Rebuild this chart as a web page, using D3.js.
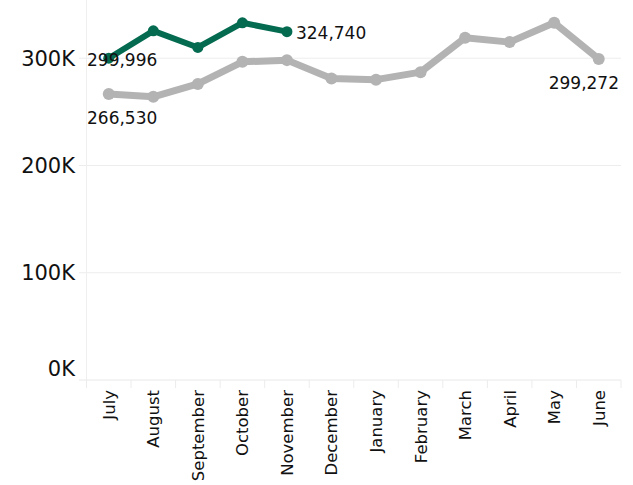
<!DOCTYPE html>
<html><head><meta charset="utf-8">
<script src="https://cdn.jsdelivr.net/npm/d3@7"></script>
<style>body{margin:0;background:#fff;} text{font-family:"DejaVu Sans",sans-serif;}</style>
</head><body>
<svg id="c" width="633" height="485"></svg>
<script>
const months = ["July","August","September","October","November","December","January","February","March","April","May","June"];
const currentYear = [299996, 325500, 310000, 333000, 324740];
const priorYear = [266530, 264000, 276000, 296600, 298200, 281000, 280000, 287000, 319000, 315000, 333000, 299272];
const yTicks = [0, 100000, 200000, 300000];

const svg = d3.select("#c");
const L = 86.5, R = 621, T = 0, B = 380;
const x = d3.scaleBand().domain(months).range([L, R]);
const y = d3.scaleLinear().domain([0, 300000]).range([B, B - 321.8]);
const cx = m => x(m) + x.bandwidth() / 2;

// gridlines
svg.append("g").selectAll("line").data(yTicks.filter(d => d > 0)).join("line")
  .attr("x1", 79).attr("x2", R).attr("y1", d => y(d)).attr("y2", d => y(d))
  .attr("stroke", "#ededed").attr("stroke-width", 1);
// left vertical axis line
svg.append("line").attr("x1", L).attr("x2", L).attr("y1", T).attr("y2", B)
  .attr("stroke", "#efefef");
// bottom axis line
svg.append("line").attr("x1", 79).attr("x2", R).attr("y1", B).attr("y2", B)
  .attr("stroke", "#e8e8e8");
// band separator ticks
svg.append("g").selectAll("line").data(d3.range(months.length + 1)).join("line")
  .attr("x1", i => L + i * x.bandwidth()).attr("x2", i => L + i * x.bandwidth())
  .attr("y1", B).attr("y2", B + 8).attr("stroke", "#ececec");

// y labels
svg.append("g").selectAll("text").data(yTicks).join("text")
  .attr("x", 75).attr("y", d => d === 0 ? y(d) - 12 : y(d))
  .attr("dy", "0.36em").attr("text-anchor", "end")
  .attr("font-size", 21).attr("fill", "#111")
  .text(d => d3.format("d")(d / 1000) + "K");

// x labels
svg.append("g").selectAll("text").data(months).join("text")
  .attr("transform", m => `translate(${cx(m) + 6},390) rotate(-90)`)
  .attr("text-anchor", "end").attr("font-size", 16.5).attr("fill", "#111")
  .text(m => m);

const line = d3.line().x(d => cx(d.m)).y(d => y(d.v));
const prior = priorYear.map((v, i) => ({ m: months[i], v }));
const curr = currentYear.map((v, i) => ({ m: months[i], v }));

svg.append("path").datum(prior).attr("d", line).attr("fill", "none")
  .attr("stroke", "#b3b3b3").attr("stroke-width", 7).attr("stroke-linejoin", "round");
svg.append("g").selectAll("circle").data(prior).join("circle")
  .attr("cx", d => cx(d.m)).attr("cy", d => y(d.v)).attr("r", 6).attr("fill", "#b3b3b3");

svg.append("path").datum(curr).attr("d", line).attr("fill", "none")
  .attr("stroke", "#046b51").attr("stroke-width", 6).attr("stroke-linejoin", "round");
svg.append("g").selectAll("circle").data(curr).join("circle")
  .attr("cx", d => cx(d.m)).attr("cy", d => y(d.v)).attr("r", 5.5).attr("fill", "#046b51");

const fmt = d3.format(",");
const lab = (t, xx, yy, anchor) => svg.append("text").attr("x", xx).attr("y", yy)
  .attr("text-anchor", anchor).attr("font-size", 17).attr("fill", "#111").text(t);
lab(fmt(currentYear[0]), 87, 66, "start");
lab(fmt(priorYear[0]), 87, 124, "start");
lab(fmt(currentYear[4]), cx(months[4]) + 9, 39, "start");
lab(fmt(priorYear[11]), 619, 89, "end");
</script>
</body></html>
